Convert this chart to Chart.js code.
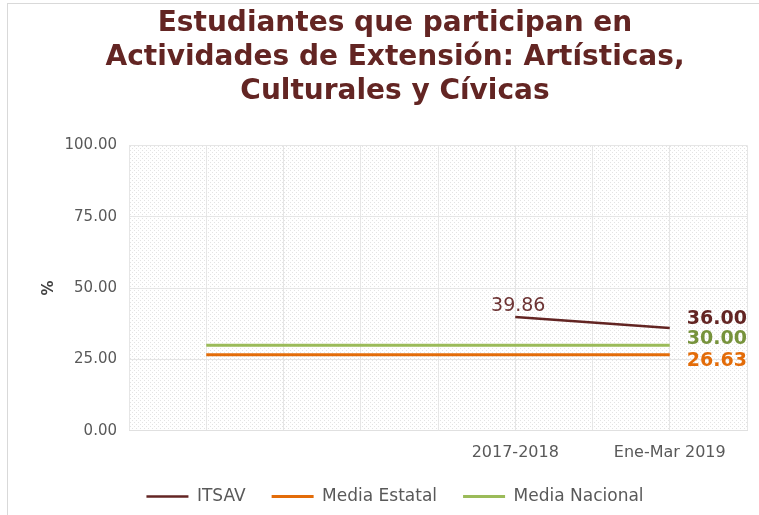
<!DOCTYPE html>
<html>
<head>
<meta charset="utf-8">
<script src="https://cdn.jsdelivr.net/npm/chart.js@4.4.1/dist/chart.umd.min.js"></script>
<style>
  html, body { margin: 0; padding: 0; background: #fff; }
  #wrap { width: 759px; height: 515px; position: relative; }
</style>
</head>
<body>
<div id="wrap"><canvas id="myChart" width="759" height="515"></canvas></div>
<script>
// Chart data
const categories = ['', '', '', '', '', '2017-2018', '', 'Ene-Mar 2019', ''];
const itsav = [null, null, null, null, null, 39.86, null, 36.00, null];
const mediaEstatal = [null, 26.63, 26.63, 26.63, 26.63, 26.63, 26.63, 26.63, null];
const mediaNacional = [null, 30.00, 30.00, 30.00, 30.00, 30.00, 30.00, 30.00, null];
const yTicks = [0, 25, 50, 75, 100];

const titleColor = '#632523';

// dotted background for the plot area
function dotPattern(ctx) {
    const c = document.createElement('canvas');
    c.width = 4; c.height = 4;
    const p = c.getContext('2d');
    p.fillStyle = '#e3e3e3';
    p.fillRect(0, 0, 1, 1);
    p.fillRect(2, 2, 1, 1);
    return ctx.createPattern(c, 'repeat');
}

const backgroundPlugin = {
    id: 'background',
    afterLayout(chart) {
        // legend keeps wide item spacing but sits closer to the axis
        chart.legend.top -= 12;
        chart.legend.bottom -= 12;
    },
    beforeDraw(chart) {
        const ctx = chart.ctx;
        const a = chart.chartArea;
        ctx.save();
        ctx.strokeStyle = '#d9d9d9';
        ctx.lineWidth = 1;
        ctx.strokeRect(7.5, 3.5, 900, 700);
        ctx.fillStyle = dotPattern(ctx);
        ctx.fillRect(a.left, a.top, a.right - a.left, a.bottom - a.top);
        ctx.restore();
    }
};

// value labels next to the points
const labelPlugin = {
    id: 'valueLabels',
    afterDatasetsDraw(chart) {
        const ctx = chart.ctx;
        ctx.save();
        chart.data.datasets.forEach((ds, i) => {
            const meta = chart.getDatasetMeta(i);
            const opts = ds.labelOpts;
            ds.data.forEach((v, j) => {
                if (v === null) return;
                const pt = meta.data[j];
                if (j === ds.data.length - 2) {
                    ctx.font = 'bold 19px "DejaVu Sans"';
                    ctx.fillStyle = opts.color;
                    ctx.textAlign = 'left';
                    ctx.textBaseline = 'middle';
                    ctx.fillText(v.toFixed(2), pt.x + 17, pt.y + opts.dy);
                } else if (opts.showFirst && j === ds.data.findIndex(d => d !== null)) {
                    ctx.font = '19px "DejaVu Sans"';
                    ctx.fillStyle = '#6e3535';
                    ctx.textAlign = 'center';
                    ctx.textBaseline = 'middle';
                    ctx.fillText(v.toFixed(2), pt.x + 3, pt.y - 11);
                }
            });
        });
        ctx.restore();
    }
};

const ctx = document.getElementById('myChart').getContext('2d');
const myChart = new Chart(ctx, {
    type: 'line',
    data: {
        labels: categories,
        datasets: [
            {
                label: 'ITSAV',
                data: itsav,
                borderColor: '#632523',
                backgroundColor: '#632523',
                borderWidth: 2.5,
                pointRadius: 0,
                spanGaps: true,
                labelOpts: { color: '#632523', dy: -9, showFirst: true }
            },
            {
                label: 'Media Estatal',
                data: mediaEstatal,
                borderColor: '#E36C09',
                backgroundColor: '#E36C09',
                borderWidth: 3,
                pointRadius: 0,
                labelOpts: { color: '#E36C09', dy: 6 }
            },
            {
                label: 'Media Nacional',
                data: mediaNacional,
                borderColor: '#9BBB59',
                backgroundColor: '#9BBB59',
                borderWidth: 3,
                pointRadius: 0,
                labelOpts: { color: '#77933C', dy: -6 }
            }
        ]
    },
    options: {
        responsive: false,
        animation: false,
        layout: { padding: { left: 40, right: 9, top: 6, bottom: 0 } },
        plugins: {
            title: {
                display: true,
                text: ['Estudiantes que participan en', 'Actividades de Extensión: Artísticas,', 'Culturales y Cívicas'],
                color: titleColor,
                font: { family: '"DejaVu Sans"', size: 28, weight: 'bold', lineHeight: 1.23 },
                padding: { top: 0, bottom: 36 }
            },
            legend: {
                position: 'bottom',
                maxHeight: 41,
                labels: {
                    usePointStyle: true,
                    pointStyle: 'line',
                    pointStyleWidth: 42,
                    color: '#595959',
                    font: { family: '"DejaVu Sans"', size: 17 },
                    padding: 26
                }
            },
            tooltip: { enabled: false }
        },
        scales: {
            x: {
                offset: false,
                grid: { color: '#e6e6e6', drawTicks: false },
                border: { color: '#e0e0e0' },
                ticks: {
                    autoSkip: false,
                    maxRotation: 0,
                    padding: 12,
                    color: '#595959',
                    font: { family: '"DejaVu Sans"', size: 16 }
                }
            },
            y: {
                min: 0,
                max: 100,
                afterBuildTicks(scale) {
                    scale.ticks = yTicks.map(v => ({ value: v }));
                },
                afterFit(scale) {
                    scale.width = 89;
                },
                grid: { color: '#e6e6e6', drawTicks: false },
                border: { display: false },
                title: {
                    display: true,
                    text: '%',
                    color: '#404040',
                    font: { family: '"DejaVu Sans"', size: 15, weight: 'bold' },
                    padding: 0
                },
                ticks: {
                    padding: 12,
                    color: '#595959',
                    font: { family: '"DejaVu Sans"', size: 15 },
                    callback: v => v.toFixed(2)
                }
            }
        }
    },
    plugins: [backgroundPlugin, labelPlugin]
});
</script>
</body>
</html>
